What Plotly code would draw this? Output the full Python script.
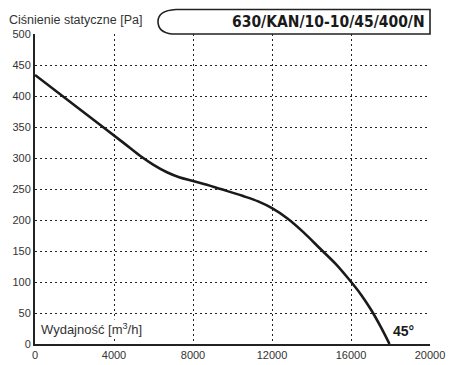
import plotly.graph_objects as go

flow = [0, 2000, 3440, 4500, 5300, 6000, 6680, 7300, 8000, 8700, 9400, 10500, 11300, 12000,
        12800, 13600, 14430, 15200, 15800, 16500, 17000, 17500, 17950]
pressure = [434, 385, 350, 324, 304, 289, 277, 269, 263, 257, 250, 239, 230, 219,
            202, 180, 154, 130, 108, 80, 56, 28, 0]

x_ticks = [0, 4000, 8000, 12000, 16000, 20000]
y_ticks = [0, 50, 100, 150, 200, 250, 300, 350, 400, 450, 500]

title_text = "630/KAN/10-10/45/400/N"
y_title = "Ciśnienie statyczne [Pa]"
x_title = "Wydajność [m<sup>3</sup>/h]"
angle_label = "45°"

W, H = 450, 365
L, R, T, B = 35, 20, 33.5, 21
pw = W - L - R
ph = H - T - B

def px(xp):
    return (xp - L) / pw

def py(yp):
    return (H - B - yp) / ph

fig = go.Figure()
fig.add_trace(go.Scatter(
    x=flow, y=pressure, mode="lines",
    line=dict(color="#1a1a1a", width=2.6, shape="spline", smoothing=1.0),
    hoverinfo="skip", showlegend=False,
))

axis_font = dict(family="Liberation Sans, Arial, sans-serif", size=11, color="#333333")

fig.update_xaxes(
    range=[0, 20000], tickvals=x_ticks, ticktext=[str(v) for v in x_ticks],
    showgrid=True, gridcolor="#222222", gridwidth=1.2, griddash="2px,3px",
    zeroline=False, showline=True, linecolor="#222222", linewidth=2,
    ticks="", tickfont=axis_font, fixedrange=True, automargin=False,
)
fig.update_yaxes(
    range=[0, 500], tickvals=y_ticks, ticktext=[str(v) for v in y_ticks],
    showgrid=True, gridcolor="#222222", gridwidth=1.2, griddash="2px,3px",
    zeroline=False, showline=True, linecolor="#222222", linewidth=2,
    ticks="", tickfont=axis_font, fixedrange=True, automargin=False,
)

# rounded title box
path = (f"M {px(430)} {py(33.5)} L {px(430)} {py(9)} L {px(176)} {py(9)} "
        f"Q {px(158)} {py(10)} {px(158)} {py(21)} "
        f"Q {px(158)} {py(32)} {px(172)} {py(33.5)} Z")
fig.add_shape(type="path", path=path, xref="paper", yref="paper",
              fillcolor="white", line=dict(color="#222222", width=1.6), layer="above")

fig.add_annotation(x=px(427), y=py(21), xref="paper", yref="paper",
                   text=f"<b>{title_text}</b>", showarrow=False,
                   xanchor="right", yanchor="middle",
                   font=dict(family="DejaVu Sans Condensed, sans-serif", size=15.5, color="#1a1a1a"))
fig.add_annotation(x=px(7), y=py(19), xref="paper", yref="paper",
                   text=y_title, showarrow=False, xanchor="left", yanchor="middle",
                   font=dict(family="Liberation Sans, Arial, sans-serif", size=12.5, color="#333333"))
fig.add_annotation(x=px(39), y=py(329), xref="paper", yref="paper",
                   text=x_title, showarrow=False, xanchor="left", yanchor="middle",
                   bgcolor="white", borderpad=1,
                   font=dict(family="Liberation Sans, Arial, sans-serif", size=13, color="#333333"))
fig.add_annotation(x=px(391), y=py(331), xref="paper", yref="paper",
                   text=f"<b>{angle_label}</b>", showarrow=False, xanchor="left", yanchor="middle",
                   font=dict(family="Liberation Sans, Arial, sans-serif", size=14, color="#1a1a1a"))

fig.update_layout(
    width=W, height=H, margin=dict(l=L, r=R, t=T, b=B),
    paper_bgcolor="white", plot_bgcolor="white",
    showlegend=False,
)

fig.write_html("out.html", config={"displayModeBar": False},
               post_script="document.body.style.margin='0px';document.body.style.padding='0px';")
